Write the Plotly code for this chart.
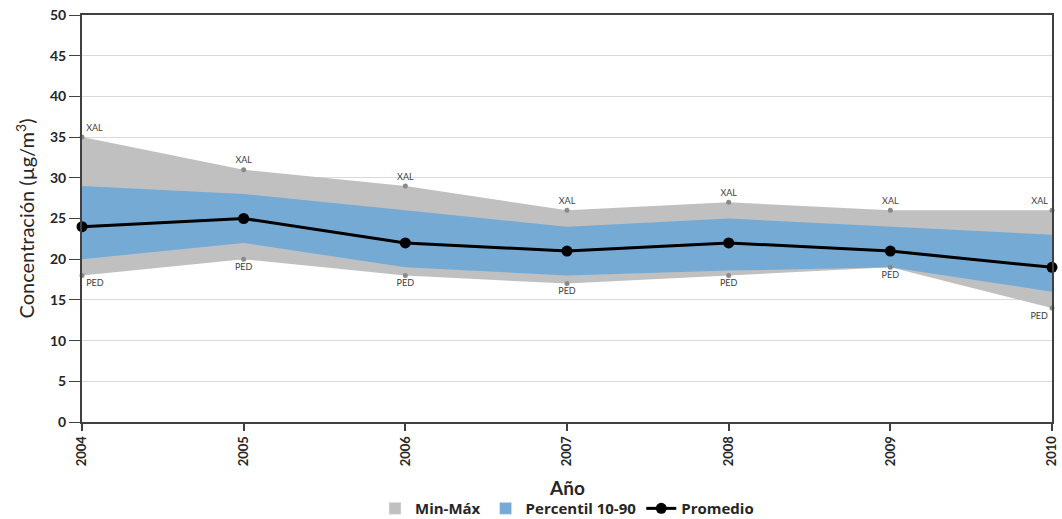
import plotly.graph_objects as go

years = [2004, 2005, 2006, 2007, 2008, 2009, 2010]
max_vals = [35, 31, 29, 26, 27, 26, 26]
min_vals = [18, 20, 18, 17, 18, 19, 14]
p90_vals = [29, 28, 26, 24, 25, 24, 23]
p10_vals = [20, 22, 19, 18, 18.6, 19, 16]
mean_vals = [24, 25, 22, 21, 22, 21, 19]
max_labels = ["XAL"] * 7
min_labels = ["PED"] * 7
y_ticks = [0, 5, 10, 15, 20, 25, 30, 35, 40, 45, 50]

FONT = "Lato"
GREY = "#C0C0C0"
BLUE = "#75AAD5"

fig = go.Figure()

# Min-Max band
fig.add_trace(go.Scatter(x=years, y=min_vals, mode="lines", line=dict(width=0, color=GREY),
                         showlegend=False, hoverinfo="skip"))
fig.add_trace(go.Scatter(x=years, y=max_vals, mode="lines", line=dict(width=0, color=GREY),
                         fill="tonexty", fillcolor=GREY, showlegend=False))
# Percentile band
fig.add_trace(go.Scatter(x=years, y=p10_vals, mode="lines", line=dict(width=0, color=BLUE),
                         showlegend=False, hoverinfo="skip"))
fig.add_trace(go.Scatter(x=years, y=p90_vals, mode="lines", line=dict(width=0, color=BLUE),
                         fill="tonexty", fillcolor=BLUE, showlegend=False))

# Legend entries (square swatches)
fig.add_trace(go.Bar(x=[None], y=[None], name="Min-Máx", marker=dict(color=GREY)))
fig.add_trace(go.Bar(x=[None], y=[None], name="Percentil 10-90", marker=dict(color=BLUE)))

# Station labels
max_pos = ["top right"] + ["top center"] * 5 + ["top left"]
min_pos = ["bottom right"] + ["bottom center"] * 5 + ["bottom left"]
fig.add_trace(go.Scatter(x=years, y=max_vals, mode="markers+text", text=max_labels,
                         textposition=max_pos, marker=dict(size=5, color="#8a8a8a"),
                         textfont=dict(size=9, color="#404040", family=FONT),
                         showlegend=False, cliponaxis=False))
fig.add_trace(go.Scatter(x=years, y=min_vals, mode="markers+text", text=min_labels,
                         textposition=min_pos, marker=dict(size=5, color="#8a8a8a"),
                         textfont=dict(size=9, color="#404040", family=FONT),
                         showlegend=False, cliponaxis=False))

# Mean
fig.add_trace(go.Scatter(x=years, y=mean_vals, mode="lines+markers", name="Promedio",
                         line=dict(color="black", width=3), marker=dict(size=11, color="black"),
                         cliponaxis=False))

fig.update_layout(
    width=1062, height=519,
    margin=dict(l=82, r=10, t=15, b=97),
    plot_bgcolor="white", paper_bgcolor="white",
    font=dict(family=FONT, color="#262626"),
    showlegend=True,
    legend=dict(orientation="h", x=0.5, xanchor="center", yref="container",
                y=0.02, yanchor="middle",
                font=dict(size=15, family="Open Sans", weight="bold"), traceorder="normal"),
    annotations=[
        dict(text="Año", x=0.5, xref="paper", y=-0.16, yref="paper", yanchor="middle",
             showarrow=False, font=dict(size=19, family=FONT, weight="bold", color="#262626")),
    ],
)
fig.update_xaxes(
    range=[2004, 2010], tickvals=years, ticktext=[str(y) for y in years],
    tickangle=-90, tickfont=dict(size=13, family=FONT, weight="bold", color="#262626"),
    showgrid=False, showline=True, linecolor="#404040", linewidth=2, mirror=True,
    ticks="outside", ticklen=7, tickwidth=2, tickcolor="#404040",
    zeroline=False, automargin=False,
)
fig.update_yaxes(
    range=[0, 50], tickvals=y_ticks,
    tickfont=dict(size=14, family=FONT, weight="bold", color="#262626"),
    showgrid=True, gridcolor="#D9D9D9", gridwidth=1,
    showline=True, linecolor="#404040", linewidth=2, mirror=True,
    ticks="outside", ticklen=11, tickwidth=1, tickcolor="#404040",
    title=dict(text="Concentración (µg/m<sup>3</sup>)", font=dict(size=20, family=FONT), standoff=10),
    zeroline=False, automargin=False,
)

fig.write_html("out.html")
